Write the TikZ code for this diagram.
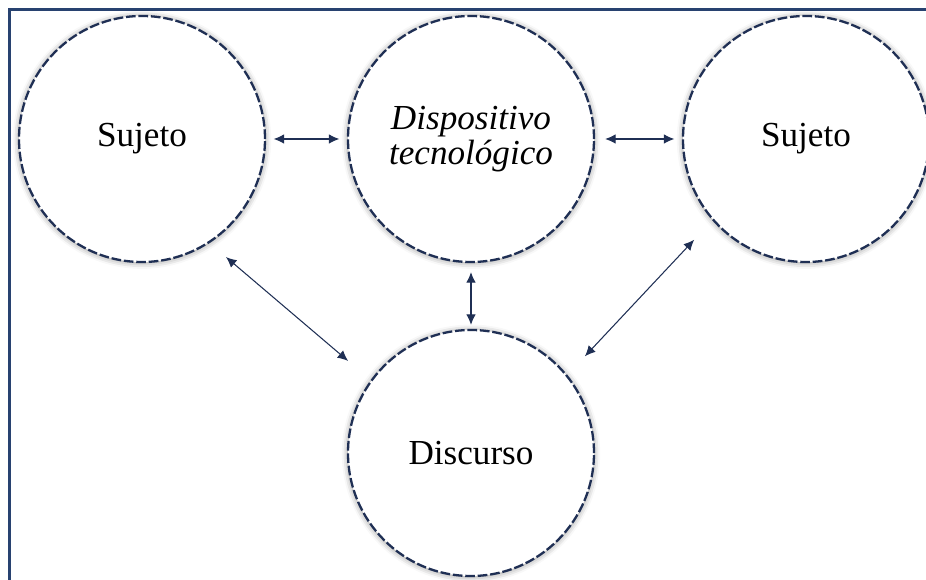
\documentclass[tikz,border=0pt]{standalone}
\usepackage{fontspec}
\setmainfont{Liberation Serif}
\usetikzlibrary{arrows.meta,shadows.blur}
\definecolor{navy}{RGB}{31,47,84}
\definecolor{frameblue}{RGB}{40,66,112}

\begin{document}
\begin{tikzpicture}[
    bubble/.style={circle, draw=navy, line width=1.3pt, dash pattern=on 5.5pt off 1.6pt,
        fill=white, minimum size=4.92cm, inner sep=0pt, align=center,
        font=\fontsize{20}{20}\selectfont,
        blur shadow={shadow xshift=0pt, shadow yshift=-0.4pt, shadow blur radius=3.5pt, shadow opacity=45}},
    link/.style={{Latex[length=6pt,width=5.5pt]}-{Latex[length=6pt,width=5.5pt]}, navy, line width=0.6pt}
]
\useasboundingbox (0,0) rectangle (18.52,11.6);
\clip (0,0) rectangle (18.52,11.6);
\draw[frameblue, line width=1.5pt] (0.19,-1) rectangle (19,11.41);

% the four circles
\node[bubble] (sujL) at (2.84,8.82) {Sujeto};
\node[bubble] (disp) at (9.42,8.82) {\textit{Dispositivo}\\\textit{tecnológico}};
\node[bubble] (sujR) at (16.12,8.82) {Sujeto};
\node[bubble] (disc) at (9.42,2.54) {Discurso};

% double arrows
\draw[link, shorten <=0.15cm, shorten >=0.15cm] (sujL) -- (disp);
\draw[link, shorten <=0.2cm, shorten >=0.15cm] (disp) -- (sujR);
\draw[link, shorten <=0.18cm, shorten >=0.08cm] (disp) -- (disc);
\draw[link, shorten <=0.43cm, shorten >=0.59cm] (sujL.-57.8) -- (disc.144.1);
\draw[link, shorten <=0.51cm, shorten >=0.53cm] (disc.39.2) -- (sujR.221.9);
\end{tikzpicture}
\end{document}
